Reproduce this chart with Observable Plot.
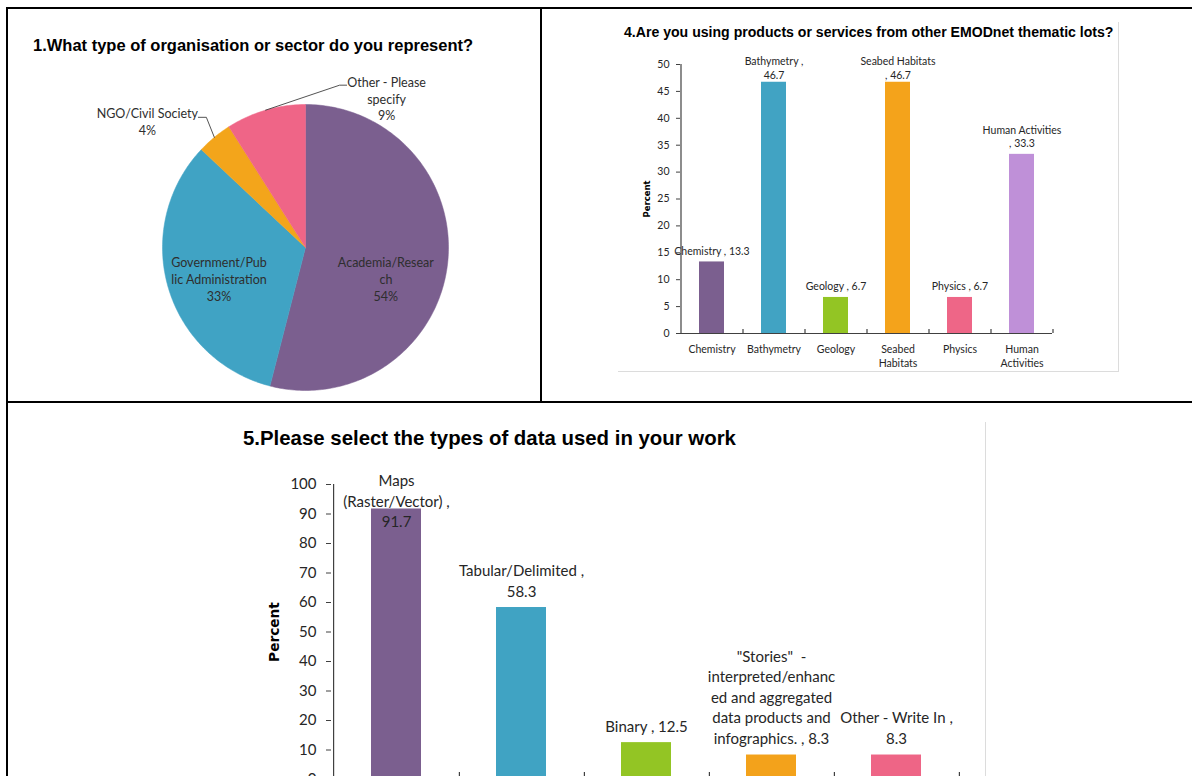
<!DOCTYPE html>
<html>
<head>
<meta charset="utf-8">
<script src="https://cdn.jsdelivr.net/npm/d3@7"></script>
<script src="https://cdn.jsdelivr.net/npm/@observablehq/plot@0.6"></script>
<style>
html, body { margin: 0; padding: 0; background: #fff; }
body { width: 1192px; height: 776px; overflow: hidden; position: relative; font-family: Lato, sans-serif; }
.abs { position: absolute; }
.rule { position: absolute; background: #000; }
.title { position: absolute; font-family: "Liberation Sans", Arial, sans-serif; font-weight: bold; color: #000; white-space: nowrap; line-height: 1; }
</style>
</head>
<body>
<div class="rule" style="left:6px;top:7px;width:1186px;height:2px"></div>
<div class="rule" style="left:6px;top:7px;width:2px;height:769px"></div>
<div class="rule" style="left:540px;top:7px;width:2px;height:395px"></div>
<div class="rule" style="left:6px;top:401px;width:1186px;height:2px"></div>
<div class="abs" style="left:618px;top:22px;width:500px;height:349px;border-right:1px solid #dcdcdc;border-bottom:1px solid #dcdcdc"></div>
<div class="abs" style="left:985px;top:422px;width:1px;height:354px;background:#dcdcdc"></div>

<div class="title" style="left:33px;top:37px;font-size:16.5px">1.What type of organisation or sector do you represent?</div>
<div class="title" style="left:624px;top:25px;font-size:14.1px">4.Are you using products or services from other EMODnet thematic lots?</div>
<div class="title" style="left:243px;top:428px;font-size:20.4px">5.Please select the types of data used in your work</div>

<div class="abs" id="pie" style="left:0px;top:60px"></div>
<div class="abs" id="lots" style="left:600px;top:40px"></div>
<div class="abs" id="types" style="left:230px;top:460px"></div>

<script>
// ---------- Data: Q1 sectors (pie) ----------
const sectorNames = ["Academia/Research", "Government/Public Administration", "NGO/Civil Society", "Other - Please specify"];
const sectorShares = [54, 33, 4, 9];
const sectorColors = ["#7B5F8F", "#40A3C4", "#F3A51B", "#EF6587"];
const sectorLabels = ["Academia/Resear\nch\n54%", "Government/Pub\nlic Administration\n33%", "NGO/Civil Society\n4%", "Other - Please\nspecify\n9%"];

// ---------- Data: Q4 thematic lots ----------
const lotNames = ["Chemistry", "Bathymetry", "Geology", "Seabed Habitats", "Physics", "Human Activities"];
const lotPercent = [13.3, 46.7, 6.7, 46.7, 6.7, 33.3];
const lotColors = ["#7B5F8F", "#41A3C3", "#93C524", "#F4A31B", "#EE6687", "#BF90D8"];
const lotTickLabels = ["Chemistry", "Bathymetry", "Geology", "Seabed\nHabitats", "Physics", "Human\nActivities"];
const lotValueLabels = ["Chemistry , 13.3", "Bathymetry ,\n46.7", "Geology , 6.7", "Seabed Habitats\n, 46.7", "Physics , 6.7", "Human Activities\n, 33.3"];
const lotYTicks = [0, 5, 10, 15, 20, 25, 30, 35, 40, 45, 50];

// ---------- Data: Q5 data types ----------
const typeNames = ["Maps (Raster/Vector)", "Tabular/Delimited", "Binary", "\"Stories\" - interpreted/enhanced and aggregated data products and infographics.", "Other - Write In"];
const typePercent = [91.7, 58.3, 12.5, 8.3, 8.3];
const typeColors = ["#7B5F8F", "#40A3C3", "#93C524", "#F3A21B", "#EE6586"];
const typeValueLabels = ["Maps\n(Raster/Vector) ,\n91.7", "Tabular/Delimited ,\n58.3", "Binary , 12.5", "\"Stories\"  -\ninterpreted/enhanc\ned and aggregated\ndata products and\ninfographics. , 8.3", "Other - Write In ,\n8.3"];
const typeYTicks = [0, 10, 20, 30, 40, 50, 60, 70, 80, 90, 100];

const TEXT = "#262626";
const baseStyle = {fontFamily: "Lato, sans-serif", fontSize: "11px", color: TEXT, background: "transparent", overflow: "visible"};

// ================= PIE =================
const PIE_R = 143;
const pieLabelPlacement = [
  {r: 0.63, dx: -9, dy: 20},
  {r: 0.63, dx: 0, dy: 6},
  {r: 1, dx: -67, dy: -16, leader: [[-8, -20], [-16, -20]]},
  {r: 1, dx: 121, dy: -12, leader: [[74, -25], [81, -25]]}
];
const total = d3.sum(sectorShares);
let cum = 0;
const slices = sectorNames.map((name, i) => {
  const a0 = (cum / total) * 2 * Math.PI;
  cum += sectorShares[i];
  const a1 = (cum / total) * 2 * Math.PI;
  return {name, i, a0, a1, mid: (a0 + a1) / 2};
});
const outline = [];
for (const s of slices) {
  const n = Math.max(4, Math.ceil((s.a1 - s.a0) * 180 / Math.PI));
  outline.push({name: s.name, px: 0, py: 0});
  for (let k = 0; k <= n; k++) {
    const a = s.a0 + (s.a1 - s.a0) * k / n;
    outline.push({name: s.name, px: Math.sin(a), py: Math.cos(a)});
  }
  outline.push({name: s.name, px: 0, py: 0});
}
const pieLabels = slices.map(s => {
  const p = pieLabelPlacement[s.i];
  return {name: s.name, text: sectorLabels[s.i], px: p.r * Math.sin(s.mid) + p.dx / PIE_R, py: p.r * Math.cos(s.mid) - p.dy / PIE_R};
});
const leaders = slices.filter(s => pieLabelPlacement[s.i].leader).flatMap(s => {
  const ex = Math.sin(s.mid), ey = Math.cos(s.mid);
  return [{name: s.name, px: ex, py: ey}, ...pieLabelPlacement[s.i].leader.map(([dx, dy]) => ({name: s.name, px: ex + dx / PIE_R, py: ey - dy / PIE_R}))];
});

const pie = Plot.plot({
  width: 540, height: 340,
  marginLeft: 162, marginRight: 92, marginTop: 44, marginBottom: 10,
  style: baseStyle,
  x: {domain: [-1, 1], axis: null},
  y: {domain: [-1, 1], axis: null},
  color: {domain: sectorNames, range: sectorColors},
  marks: [
    Plot.line(outline, {x: "px", y: "py", z: "name", fill: "name", stroke: "name", strokeWidth: 0.5}),
    Plot.line(leaders, {x: "px", y: "py", z: "name", stroke: "#404040", strokeWidth: 0.9}),
    Plot.text(pieLabels, {x: "px", y: "py", text: "text", fontSize: 12.5, lineHeight: 1.33, fill: "#2e2e2e"})
  ]
});
document.getElementById("pie").append(pie);

// ================= BAR helper =================
function barChart({names, values, colors, valueLabels, yTicks, tickLabels, width, height, margins, fontSize, lineHeight, tickSize, tickPadding, boundaryTick, labelDy, pinDy, percentDx, percentSize, xLabelPadding}) {
  const [mt, mr, mb, ml] = margins;
  const step = (width - ml - mr) / names.length;
  const ymax = yTicks[yTicks.length - 1];
  const rows = names.map((n, i) => ({name: n, value: values[i], label: valueLabels[i], pinned: values[i] / ymax > 0.85}));
  const marks = [
    Plot.barY(rows, {x: "name", y: "value", fill: "name"}),
    Plot.ruleY([0], {stroke: "#404040", strokeWidth: 1.2}),
    Plot.ruleX([names[0]], {x: d => d, y1: 0, y2: ymax, dx: -step / 2, stroke: "#404040", strokeWidth: 1.2}),
    Plot.ruleX(names, {x: d => d, y1: 0, y2: 0, insetBottom: boundaryTick, dx: step / 2, stroke: "#404040", strokeWidth: 1.2}),
    Plot.axisY({ticks: yTicks, tickSize, tickPadding, fontSize, label: null, stroke: "#404040"}),
    Plot.text(rows.filter(d => !d.pinned), {x: "name", y: "value", text: "label", lineAnchor: "bottom", dy: labelDy, fontSize, lineHeight, fill: TEXT}),
    Plot.text(rows.filter(d => d.pinned), {x: "name", frameAnchor: "top", text: "label", lineAnchor: "top", dy: pinDy, fontSize, lineHeight, fill: TEXT}),
    Plot.text(["Percent"], {frameAnchor: "left", textAnchor: "middle", rotate: -90, dx: percentDx, fontWeight: "bold", fontSize: percentSize, fontFamily: "DejaVu Sans, sans-serif", fill: "#000"})
  ];
  if (tickLabels) {
    marks.push(Plot.axisX({tickSize: 0, tickPadding: xLabelPadding, tickFormat: d => tickLabels[names.indexOf(d)], fontSize, lineHeight, label: null}));
  }
  return Plot.plot({
    width, height,
    marginTop: mt, marginRight: mr, marginBottom: mb, marginLeft: ml,
    style: baseStyle,
    x: {type: "band", domain: names, paddingInner: 0.6, paddingOuter: 0.3, axis: null},
    y: {domain: [0, ymax], axis: null},
    color: {domain: names, range: colors},
    marks
  });
}

document.getElementById("lots").append(barChart({
  names: lotNames, values: lotPercent, colors: lotColors, valueLabels: lotValueLabels,
  yTicks: lotYTicks, tickLabels: lotTickLabels,
  width: 520, height: 340, margins: [24, 68, 47, 80],
  fontSize: 10.5, lineHeight: 1.3, tickSize: 4, tickPadding: 7, boundaryTick: 4,
  labelDy: -7, pinDy: -9, percentDx: -33, percentSize: 8.5, xLabelPadding: 10
}));

document.getElementById("types").append(barChart({
  names: typeNames, values: typePercent, colors: typeColors, valueLabels: typeValueLabels,
  yTicks: typeYTicks, tickLabels: null,
  width: 760, height: 330, margins: [24, 30, 11, 101],
  fontSize: 15, lineHeight: 1.37, tickSize: 5, tickPadding: 10, boundaryTick: 7,
  labelDy: -11, pinDy: -13, percentDx: -57, percentSize: 13.7, xLabelPadding: 12
}));
</script>
</body>
</html>
